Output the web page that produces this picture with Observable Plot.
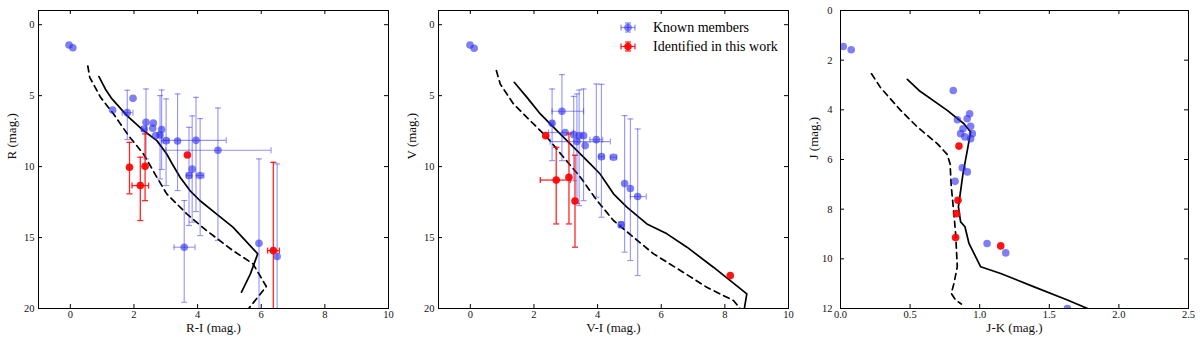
<!DOCTYPE html>
<html><head><meta charset="utf-8">
<script src="https://cdn.jsdelivr.net/npm/d3@7"></script>
<script src="https://cdn.jsdelivr.net/npm/@observablehq/plot@0.6"></script>
<style>
body{margin:0;background:#fff;}
#row{display:flex;width:1200px;height:341px;position:relative;}
.legend{position:absolute;font-family:"Liberation Serif",serif;font-size:14px;color:#000;}
</style>
</head><body><div id="row"></div>
<script>
// ---------- DATA ----------
// rows: [color, magnitude, colorErrLo, colorErrHi, magErrLo, magErrHi]
const riKnown = [
  [-0.04,1.43],[0.08,1.62],[1.97,5.19],[1.33,6.01],
  [1.79,6.2,1.63,1.97,4.62,8.1],
  [2.38,6.88,null,null,4.53,9.46],
  [2.61,6.93],[2.59,7.3],
  [2.32,7.35,2.24,2.40,null,null],
  [2.87,7.39,null,null,4.6,10.2],
  [2.68,7.82],
  [2.82,7.77,2.76,2.88,5.0,10.87],
  [3.01,8.17,2.92,3.10,5.23,11.34],
  [3.37,8.2,null,null,4.88,11.69],
  [3.95,8.15,2.87,4.9,5.12,13.17],
  [4.64,8.85,3.0,6.31,5.87,15.2],
  [3.83,10.18,null,null,6.43,13.92],
  [3.73,10.63,3.65,3.81,7.23,14.15],
  [4.08,10.63,3.96,4.2,6.62,14.86],
  [3.58,15.68,3.26,3.92,12.39,19.56],
  [5.93,15.4,null,null,9.46,21.5],
  [6.5,16.34,null,null,9.81,22.9]
];
const riFound = [
  [1.86,10.05,null,null,8.29,11.92],
  [2.35,9.98,null,null,7.7,12.4],
  [2.2,11.34,1.94,2.46,9.34,13.8],
  [3.68,9.18],
  [6.38,15.92,6.2,6.57,9.7,22.1]
];
const riSolid = [[0.9,3.66],[1.1,4.53],[1.31,5.23],[1.78,6.41],[2.3,7.46],[2.72,8.17],[3.03,9.11],[3.2,9.8],[3.45,10.75],[3.76,11.69],[4.07,12.39],[4.59,13.33],[5.11,14.27],[5.89,16.15],[5.66,17.56],[5.38,18.85]];
const riDashed = [[0.55,2.91],[0.61,3.71],[0.95,5.12],[1.36,6.29],[1.83,7.82],[2.3,9.11],[2.72,10.75],[3.03,11.92],[3.66,13.33],[4.28,14.51],[5.11,15.92],[5.74,16.85],[6.16,18.45],[5.5,20.3]];

const viKnown = [
  [-0.01,1.43],[0.12,1.66],
  [2.88,6.1,2.57,3.56,3.52,9.58],
  [2.57,6.95,2.52,2.62,4.53,9.58],
  [2.98,7.6,2.46,3.24,null,null],
  [3.25,7.75,null,null,5.05,11.0],
  [3.42,7.82,null,null,4.6,12.75],
  [3.56,7.82,null,null,4.53,12.4],
  [3.35,8.24,2.51,4.4,4.88,12.6],
  [3.61,8.52],
  [3.96,8.1,3.76,4.16,4.18,12.16],
  [4.12,9.3,4.04,4.2,4.2,13.57],
  [4.5,9.34,4.4,4.6,null,null],
  [4.85,11.2,null,null,6.41,16.03],
  [5.03,11.55,null,null,6.64,16.62],
  [5.26,12.11,5.03,5.53,7.35,17.68],
  [4.74,14.1,4.67,4.81,13.9,14.3]
];
const viFound = [
  [2.37,7.82],
  [2.7,10.95,2.2,3.14,8.64,14.04],
  [3.1,10.75,null,null,7.7,14.04],
  [3.29,12.42,null,null,9.2,15.68],
  [8.17,17.68]
];
const viSolid = [[1.38,4.06],[1.78,5.12],[2.2,6.29],[2.72,7.46],[3.25,8.64],[3.77,9.81],[4.08,10.52],[4.5,11.92],[4.92,12.86],[5.55,14.04],[6.18,14.74],[6.81,15.68],[7.64,17.09],[8.69,18.97],[8.59,20.3]];
const viDashed = [[0.82,3.24],[0.94,4.18],[1.36,5.59],[1.88,6.76],[2.41,7.93],[2.93,9.34],[3.46,10.75],[3.98,12.39],[4.5,13.8],[5.13,14.98],[5.76,16.15],[6.6,17.32],[7.43,18.5],[8.27,19.44],[8.59,20.3]];

const jkKnown = [[0.02,1.45],[0.077,1.58],[0.81,3.22],[0.928,4.16],[0.84,4.4],[0.91,4.36],[0.935,4.66],[0.88,4.76],[0.947,4.96],[0.863,4.96],[0.894,5.09],[0.935,5.16],[0.875,6.33],[0.911,6.5],[0.823,6.88],[1.053,9.38],[1.187,9.76],[1.63,12.0]];
const jkFound = [[0.851,5.46],[0.844,7.64],[0.834,8.18],[0.827,9.14],[1.151,9.48]];
const jkSolid = [[0.48,2.77],[0.564,3.22],[0.767,4.02],[0.887,4.56],[0.935,4.89],[0.911,5.63],[0.88,6.57],[0.847,7.91],[0.863,8.51],[0.894,8.71],[0.923,9.38],[1.007,10.32],[1.151,10.59],[1.391,11.13],[1.63,11.66],[1.775,12.0]];
const jkDashed = [[0.223,2.55],[0.288,3.11],[0.432,4.02],[0.552,4.69],[0.695,5.36],[0.767,5.80],[0.787,6.17],[0.796,7.10],[0.81,7.91],[0.827,8.98],[0.839,10.32],[0.815,10.99],[0.796,11.39],[0.827,11.66],[0.868,11.82]];

const ticksMag = [0,5,10,15,20];
const ticksColor = [0,2,4,6,8,10];
const ticksJK = [0,0.5,1.0,1.5,2.0,2.5];
const ticksJ = [0,2,4,6,8,10,12];
const legendLabels = ["Known members","Identified in this work"];

// ---------- DRAWING ----------
const BLUE = "#2a2aee", RED = "#ff0000";
const H = 341, MT = 10, MB = 33, FH = H - MT - MB;
const hcap = {draw(ctx, size){const w=Math.sqrt(size/Math.PI);ctx.moveTo(-w,0);ctx.lineTo(w,0);}};
const vcap = {draw(ctx, size){const w=Math.sqrt(size/Math.PI);ctx.moveTo(0,-w);ctx.lineTo(0,w);}};

function errMarks(rows, color, opacity, width){
  const vy = rows.filter(d => d[4] != null);
  const hx = rows.filter(d => d[2] != null);
  const vcaps = vy.flatMap(d => [[d[0], d[4]], [d[0], d[5]]]);
  const hcaps = hx.flatMap(d => [[d[2], d[1]], [d[3], d[1]]]);
  const st = {stroke: color, strokeOpacity: opacity, strokeWidth: width, clip: true};
  return [
    Plot.ruleX(vy, {x: d => d[0], y1: d => d[4], y2: d => d[5], ...st}),
    Plot.ruleY(hx, {y: d => d[1], x1: d => d[2], x2: d => d[3], ...st}),
    Plot.dot(vcaps, {x: d => d[0], y: d => d[1], r: 3, symbol: hcap, fill: "none", ...st}),
    Plot.dot(hcaps, {x: d => d[0], y: d => d[1], r: 3, symbol: vcap, fill: "none", ...st})
  ];
}

function panel({known, found, solid, dashed, xDomain, yDomain, xTicks, yTicks, xFmt, xLabel, yLabel, ml, yPad}){
  const mr = 12;
  return Plot.plot({
    width: 400, height: H, marginLeft: ml, marginRight: mr, marginTop: MT, marginBottom: MB,
    style: {fontFamily: "'Liberation Serif', serif", fontSize: "11px", background: "white", color: "#111"},
    x: {domain: xDomain},
    y: {domain: yDomain, reverse: true},
    marks: [
      Plot.line(solid, {x: d => d[0], y: d => d[1], stroke: "black", strokeWidth: 1.7, clip: true}),
      Plot.line(dashed, {x: d => d[0], y: d => d[1], stroke: "black", strokeWidth: 1.7, strokeDasharray: "6,4.5", clip: true}),
      ...errMarks(known, BLUE, 0.5, 1.1),
      Plot.dot(known, {x: d => d[0], y: d => d[1], r: 3.8, fill: BLUE, fillOpacity: 0.6, clip: true}),
      ...errMarks(found, RED, 0.85, 1.3),
      Plot.dot(found, {x: d => d[0], y: d => d[1], r: 3.8, fill: RED, fillOpacity: 0.92, clip: true}),
      Plot.frame({stroke: "black", strokeWidth: 1}),
      Plot.ruleX(xTicks, {x: d => d, insetTop: FH - 4, stroke: "black"}),
      Plot.ruleX(xTicks, {x: d => d, insetBottom: FH - 4, stroke: "black"}),
      Plot.ruleY(yTicks, {y: d => d, insetLeft: 400 - ml - mr - 4, stroke: "black"}),
      Plot.ruleY(yTicks, {y: d => d, insetRight: 400 - ml - mr - 4, stroke: "black"}),
      Plot.axisX(xTicks, {tickSize: 0, tickPadding: 2, tickFormat: xFmt, label: null, fontSize: 10.5}),
      Plot.axisY(yTicks, {tickSize: 0, tickPadding: yPad, label: null, fontSize: 10.5}),
      Plot.text([xLabel], {frameAnchor: "bottom", dy: 23.5, text: d => d, fontSize: 13}),
      Plot.text([yLabel], {frameAnchor: "left", dx: -27, rotate: -90, text: d => d, fontSize: 13})
    ]
  });
}

const row = document.getElementById("row");
function add(node){const w=document.createElement("div");w.style.position="relative";w.style.width="400px";w.appendChild(node);row.appendChild(w);return w;}

add(panel({known: riKnown, found: riFound, solid: riSolid, dashed: riDashed, xDomain: [-1,10], yDomain: [-1,20], xTicks: ticksColor, yTicks: ticksMag, xFmt: d3.format("d"), xLabel: "R-I (mag.)", yLabel: "R (mag.)", ml: 38, yPad: 4}));
const w2 = add(panel({known: viKnown, found: viFound, solid: viSolid, dashed: viDashed, xDomain: [-1,10], yDomain: [-1,20], xTicks: ticksColor, yTicks: ticksMag, xFmt: d3.format("d"), xLabel: "V-I (mag.)", yLabel: "V (mag.)", ml: 38, yPad: 4}));
add(panel({known: jkKnown, found: jkFound, solid: jkSolid, dashed: jkDashed, xDomain: [0,2.5], yDomain: [0,12], xTicks: ticksJK, yTicks: ticksJ, xFmt: d3.format(".1f"), xLabel: "J-K (mag.)", yLabel: "J (mag.)", ml: 40, yPad: 8}));

// legend inside panel 2
const legendColors = [BLUE, RED];
const lg = document.createElement("div");
lg.className = "legend";
lg.style.left = "214px"; lg.style.top = "18px";
legendLabels.forEach((t, i) => {
  const c = legendColors[i];
  const line = document.createElement("div");
  line.style.cssText = "display:flex;align-items:center;height:19px;";
  line.innerHTML = `<svg width="28" height="19" style="margin-right:11px"><g stroke="${c}" stroke-opacity="${i?0.9:0.55}" stroke-width="1.2">
    <line x1="7" x2="21" y1="9.5" y2="9.5"/><line x1="7" x2="7" y1="6.5" y2="12.5"/><line x1="21" x2="21" y1="6.5" y2="12.5"/>
    <line x1="14" x2="14" y1="5" y2="14"/><line x1="11" x2="17" y1="5" y2="5"/><line x1="11" x2="17" y1="14" y2="14"/></g>
    <circle cx="14" cy="9.5" r="3.8" fill="${c}" fill-opacity="${i?0.92:0.6}"/></svg><span>${t}</span>`;
  lg.appendChild(line);
});
w2.appendChild(lg);
</script></body></html>
